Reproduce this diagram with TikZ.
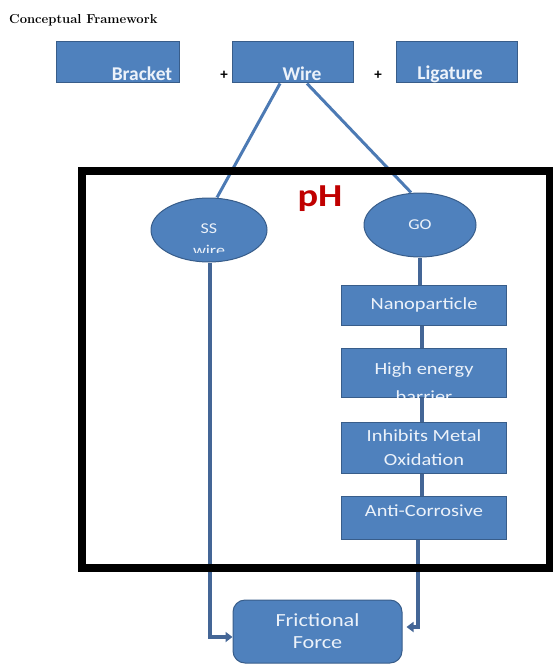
\documentclass[tikz,border=0pt]{standalone}
\usepackage{fontspec}
\usetikzlibrary{arrows.meta}
\usetikzlibrary{shapes.geometric}
\newfontfamily\boxfont{Carlito}
\newfontfamily\wideboxfont[FakeStretch=1.2]{Carlito}
\definecolor{boxblue}{RGB}{79,129,189}
\definecolor{boxedge}{RGB}{56,93,138}
\definecolor{boxtext}{RGB}{236,242,250}
\definecolor{linkblue}{RGB}{76,122,180}
\definecolor{flowblue}{RGB}{68,102,150}
\definecolor{phred}{RGB}{192,0,0}
\tikzset{
  topbox/.style={draw=boxedge, fill=boxblue, line width=1pt, minimum width=121pt, minimum height=41pt, inner sep=0pt},
  toptext/.style={font=\boxfont\bfseries\fontsize{19.5}{23}\selectfont, text=boxtext, inner sep=0pt},
  colbox/.style={draw=boxedge, fill=boxblue, line width=1pt, minimum width=165pt, inner sep=0pt, align=center, text=boxtext, font=\wideboxfont\fontsize{17}{24}\selectfont},
  ovalbox/.style={ellipse, draw=boxedge, fill=boxblue, line width=1pt, inner sep=0pt, text=boxtext, font=\wideboxfont\fontsize{15}{22}\selectfont},
  link/.style={line width=3pt, draw=linkblue},
  flow/.style={line width=4.5pt, draw=flowblue, -{Triangle[length=7pt,width=10pt]}},
  plus/.style={font=\boxfont\bfseries\fontsize{15}{16}\selectfont, inner sep=0pt}
}

\begin{document}
\begin{tikzpicture}[x=1pt,y=-1pt]
  \def\colx{424};
  \useasboundingbox (0,0) rectangle (553,666);
  \node[anchor=west, inner sep=0pt] (title) at (9,20) {\bfseries\fontsize{13}{15}\selectfont Conceptual Framework};
  % top row
  \node[topbox, minimum width=123pt] (bracket) at (117.5,62.5) {};
  \node[topbox] (wire) at (292.5,62.5) {};
  \node[topbox] (ligature) at (456.5,62.5) {};
  \node[toptext] (brackettext) at (142,74) {Bracket};
  \node[toptext] (wiretext) at (302,74) {Wire};
  \node[toptext] (ligaturetext) at (450,74) {Ligature};
  \node[plus] (plusa) at (224,75) {+};
  \node[plus] (plusb) at (378,75) {+};
  % ovals
  \node[ovalbox, minimum width=116pt, minimum height=64pt] (ss) at (209,230) {};
  \node[ovalbox, minimum width=112pt, minimum height=64pt] (go) at (\colx-4,225) {GO};
  \begin{scope}
    \clip ([xshift=-60pt]ss.north) rectangle ([xshift=60pt,yshift=10pt]ss.south);
    \node[ovalbox, draw=none, fill=none, align=center] (sstext) at ([yshift=-10pt]ss.center) {SS\\wire};
  \end{scope}
  \node[] (phlabel) at (320,199) {\color{phred}\wideboxfont\bfseries\fontsize{32}{34}\selectfont pH};
  % right column
  \node[colbox, minimum height=40pt] (nano) at (\colx,305) {Nanoparticle};
  \node[colbox, minimum height=49pt] (high) at (\colx,372.5) {};
  \begin{scope}
    \clip (high.north west) rectangle (high.south east);
    \node[colbox, draw=none, fill=none, font=\wideboxfont\fontsize{17}{28}\selectfont] (hightext) at ([yshift=-10pt]high.center) {High energy\\barrier};
  \end{scope}
  \node[colbox, minimum height=51pt] (inhib) at (\colx,447.5) {Inhibits Metal\\Oxidation};
  \node[colbox, minimum height=43pt, text depth=14pt] (anti) at (\colx,517.5) {Anti-Corrosive};
  \node[colbox, minimum width=169pt, minimum height=63pt, rounded corners=12pt, font=\wideboxfont\fontsize{18.5}{22}\selectfont] (fric) at (317.5,631.5) {Frictional\\Force};
  % links
  \draw[link] ([xshift=-12.5pt]wire.south) -- ([xshift=8pt]ss.north);
  \draw[link] ([xshift=14.5pt]wire.south) -- ([xshift=-9pt]go.north);
  \draw[line width=4pt, flowblue] (go.south) -- (go.south |- nano.north);
  \draw[line width=4pt, flowblue] ([xshift=-2pt]nano.south) -- ([xshift=-2pt]high.north);
  \draw[line width=4pt, flowblue] ([xshift=-2pt]high.south) -- ([xshift=-2pt]inhib.north);
  \draw[line width=4pt, flowblue] ([xshift=-2pt]inhib.south) -- ([xshift=-2pt]anti.north);
  \draw[flow] ([xshift=1pt]ss.south) |- ([yshift=-5.5pt]fric.west);
  \draw[flow, shorten >=4pt] ([xshift=-6pt]anti.south) |- ([yshift=4.5pt]fric.east);
  %frame
  \draw[line width=8pt] (82,171) rectangle (549.5,567.5);
\end{tikzpicture}
\end{document}
